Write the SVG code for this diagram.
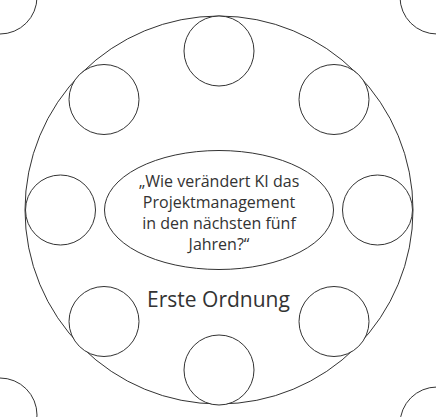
<svg xmlns="http://www.w3.org/2000/svg" width="436" height="417" viewBox="0 0 436 417">
<style>
.c{fill:#fff;stroke:#333;stroke-width:1}
.t{font-family:"Open Sans","Noto Sans",sans-serif;fill:#333;text-anchor:middle}
</style>
<rect width="436" height="417" fill="#fff"/>
<g id="corners">
<circle class="c" cx="0" cy="-3" r="37"/>
<circle class="c" cx="437" cy="-3" r="37"/>
<circle class="c" cx="0" cy="415" r="37"/>
<circle class="c" cx="437" cy="424" r="37"/>
</g>
<g id="outer"><circle class="c" cx="219" cy="210" r="194"/></g>
<g id="n1"><circle class="c" cx="219" cy="51" r="35"/></g>
<g id="n2"><circle class="c" cx="334" cy="99.5" r="35"/></g>
<g id="n3"><circle class="c" cx="377.5" cy="210" r="35"/></g>
<g id="n4"><circle class="c" cx="334" cy="321.5" r="35"/></g>
<g id="n5"><circle class="c" cx="219" cy="370" r="35"/></g>
<g id="n6"><circle class="c" cx="104" cy="321.5" r="35"/></g>
<g id="n7"><circle class="c" cx="60.5" cy="210" r="35"/></g>
<g id="n8"><circle class="c" cx="104" cy="99.5" r="35"/></g>
<g id="center">
<ellipse class="c" cx="219" cy="210" rx="114.5" ry="59.5"/>
<text class="t" font-size="16" x="219" y="186.5">„Wie verändert KI das</text>
<text class="t" font-size="16" x="219" y="207.5">Projektmanagement</text>
<text class="t" font-size="16" x="219" y="228.5">in den nächsten fünf</text>
<text class="t" font-size="16" x="219" y="249.5">Jahren?“</text>
</g>
<g id="label"><text class="t" font-size="21" x="218.5" y="307">Erste Ordnung</text></g>
<g id="connectors"/>
</svg>
